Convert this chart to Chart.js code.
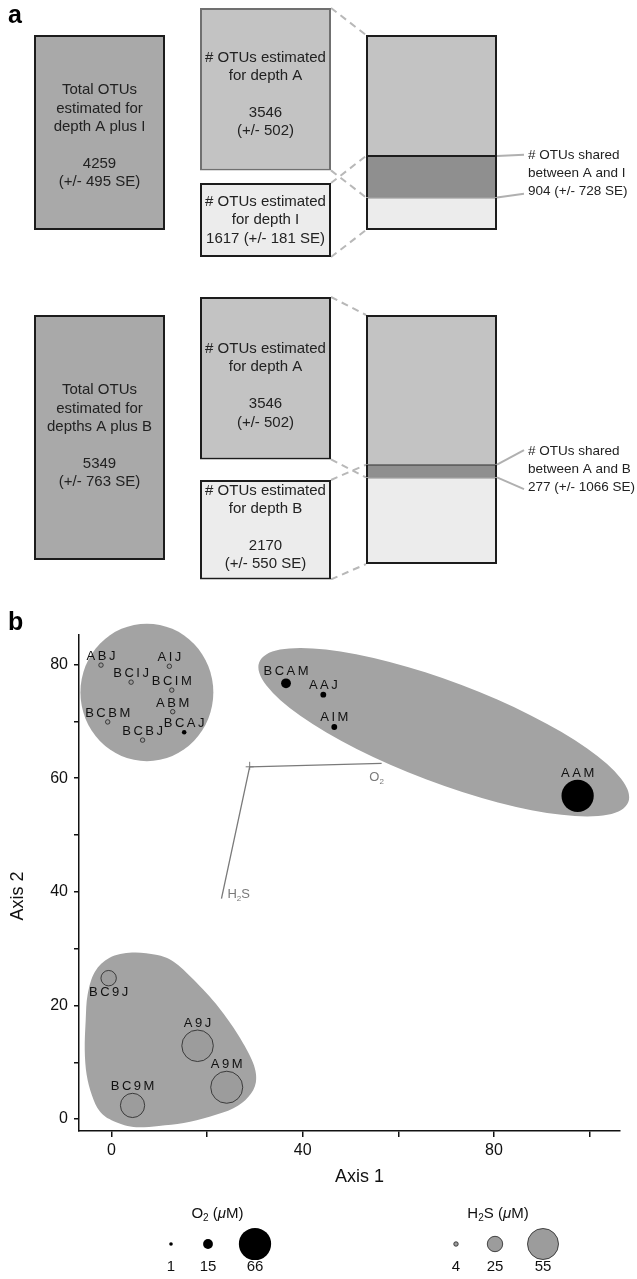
<!DOCTYPE html>
<html><head><meta charset="utf-8">
<script src="https://cdn.jsdelivr.net/npm/chart.js@4.4.1/dist/chart.umd.min.js"></script>
<style>
html,body{margin:0;padding:0;background:#fff;}
#wrap{position:relative;width:637px;height:1279px;overflow:hidden;}
canvas{position:absolute;left:0;}
#ca{top:0;} #cb{top:580px;}
</style></head><body>
<div id="wrap">
<canvas id="ca" width="637" height="580"></canvas>
<canvas id="cb" width="637" height="699"></canvas>
</div>
<script>
// ================= DATA: panel a (OTU estimates) =================
const otuA = 3546, otuA_se = 502;
const otuI = 1617, otuI_se = 181;
const otuB = 2170, otuB_se = 550;
const totalAI = 4259, totalAI_se = 495;
const totalAB = 5349, totalAB_se = 763;
const sharedAI = 904, sharedAI_se = 728;
const sharedAB = 277, sharedAB_se = 1066;

// ================= DATA: panel b (ordination) =================
const samples = ['ABJ','BCIJ','AIJ','BCIM','ABM','BCBM','BCBJ','BCAJ','BCAM','AAJ','AIM','AAM','BC9J','A9J','A9M','BC9M'];
const axis1   = [-2.2, 4.1, 12.1, 12.6, 12.8, -0.8, 6.5, 15.2, 36.5, 44.3, 46.6, 97.5, -0.6, 18.0, 24.1, 4.4];
const axis2   = [79.9, 76.9, 79.7, 75.5, 71.7, 69.9, 66.7, 68.1, 76.7, 74.7, 69.0, 56.9, 24.8, 12.9, 5.6, 2.4];
const o2uM    = [0, 0, 0, 0, 0, 0, 0, 3, 15, 6, 6, 66, 0, 0, 0, 0];
const h2suM   = [4, 4, 4, 4, 4, 4, 4, 0, 0, 0, 0, 0, 25, 56, 57, 42];
const xTickLabels = [0, 40, 80];
const yTickLabels = [0, 20, 40, 60, 80];
const o2Legend  = [1, 15, 66];
const h2sLegend = [4, 25, 55];
// environmental vectors (axis units)
const vecOrigin = [28.9, 62.0];
const vecO2  = [56.5, 62.6];
const vecH2S = [23.0, 38.8];
// group outlines (axis units)
const hullTopLeft  = {cx: 7.4, cy: 75.1, rx: 13.9, ry: 12.1};
const hullTopRight = {cx: 69.5, cy: 68.1, majorX: 108.1, majorY: 55.8, minorX: 65.8, minorY: 76.4};
const hullLowX = [4.3,9.3,13.0,17.2,22.4,26.5,29.6,30.2,28.6,25.5,20.5,15.1,9.9,4.6,0.0,-2.5,-4.1,-5.2,-5.6,-5.4,-5.0,-3.5,-0.4];
const hullLowY = [29.3,28.9,27.7,24.5,19.7,14.8,9.9,6.5,3.9,1.9,0.4,-0.7,-1.2,-1.4,-0.2,1.4,4.2,7.8,12.2,17.4,21.9,25.9,28.4];
const labelBelow = ['BC9J'];

// ================= STYLE / LAYOUT =================
const FONT = "'Liberation Sans', Arial, Helvetica, sans-serif";
const K = 0.0458;                 // px per OTU in panel a
const C = {total:'#a9a9a9', single:'#c3c3c3', other:'#ececec', shared:'#8f8f8f', dark:'#1c1c1c', dash:'#b8b8b8', hull:'#a3a3a3', vec:'#7a7a7a'};
const rO2  = v => 1.6 + 0.22 * v;     // bubble radius mapping
const rH2S = v => 1.2 + 0.26 * v;

const groupsA = [
  {totalTop:35, aTop:8, oTop:183, aBorder:'#707070', total:totalAI, totalSe:totalAI_se, plusName:'depth A plus I',
   other:otuI, otherSe:otuI_se, otherName:'I', otherCompact:true, shared:sharedAI, sharedSe:sharedAI_se, dy:[3.5,5,0], labelDy:-3},
  {totalTop:315, aTop:297, oTop:480, aBorder:C.dark, total:totalAB, totalSe:totalAB_se, plusName:'depths A plus B',
   other:otuB, otherSe:otuB_se, otherName:'B', otherCompact:false, shared:sharedAB, sharedSe:sharedAB_se, dy:[-1.5,7.5,-2.5], labelDy:-2}
];

// ---------------- panel a: floating bars ----------------
const catsA = ['total','single','combined'];
const boxes = [];
groupsA.forEach(g => {
  g.idx = {};
  const t = g.totalTop / K, a = g.aTop / K, o = g.oTop / K;
  g.idx.total = boxes.length;
  boxes.push({cat:0, range:[t, t + g.total], fill:C.total, stroke:C.dark, bw:2, dy:g.dy[0],
    lines:['Total OTUs','estimated for', g.plusName, '', String(g.total), '(+/- ' + g.totalSe + ' SE)']});
  g.idx.a = boxes.length;
  boxes.push({cat:1, range:[a, a + otuA], fill:C.single, stroke:g.aBorder, bw:2, dy:g.dy[1],
    lines:['# OTUs estimated','for depth A','', String(otuA), '(+/- ' + otuA_se + ')']});
  g.idx.o = boxes.length;
  boxes.push({cat:1, range:[o, o + g.other], fill:C.other, stroke:C.dark, bw:2, dy:g.dy[2],
    lines: g.otherCompact
      ? ['# OTUs estimated','for depth ' + g.otherName, g.other + ' (+/- ' + g.otherSe + ' SE)']
      : ['# OTUs estimated','for depth ' + g.otherName, '', String(g.other), '(+/- ' + g.otherSe + ' SE)']});
  const s1 = otuA - g.shared, s3 = g.other - g.shared;
  g.idx.s1 = boxes.length;
  boxes.push({cat:2, range:[t, t + s1], fill:C.single, stroke:C.dark, bw:{top:2,left:2,right:2,bottom:1}});
  g.idx.s2 = boxes.length;
  boxes.push({cat:2, range:[t + s1, t + s1 + g.shared], fill:C.shared, stroke:C.dark, bw:{top:1,left:2,right:2,bottom:1}});
  g.idx.s3 = boxes.length;
  boxes.push({cat:2, range:[t + s1 + g.shared, t + s1 + g.shared + s3], fill:C.other, stroke:C.dark, bw:{top:1,left:2,right:2,bottom:2}});
});

function geom(chart, di, cat) {
  const el = chart.getDatasetMeta(di).data[cat];
  const p = el.getProps(['x','y','base','width'], true);
  return {left:p.x - p.width/2, right:p.x + p.width/2, top:Math.min(p.y,p.base), bottom:Math.max(p.y,p.base), cx:p.x};
}

const pluginA = {
  id:'panelA',
  beforeDatasetsDraw(chart) {
    const ctx = chart.ctx;
    ctx.save();
    ctx.strokeStyle = C.dash; ctx.lineWidth = 2; ctx.setLineDash([7,5]);
    groupsA.forEach(g => {
      const A = geom(chart, g.idx.a, 1), O = geom(chart, g.idx.o, 1);
      const S1 = geom(chart, g.idx.s1, 2), S2 = geom(chart, g.idx.s2, 2), S3 = geom(chart, g.idx.s3, 2);
      [[A.right, A.top, S1.left, S1.top], [A.right, A.bottom, S2.left, S2.bottom],
       [O.right, O.top, S2.left, S2.top], [O.right, O.bottom, S3.left, S3.bottom]].forEach(l => {
        ctx.beginPath(); ctx.moveTo(l[0], l[1]); ctx.lineTo(l[2], l[3]); ctx.stroke();
      });
    });
    ctx.restore();
  },
  afterDatasetsDraw(chart) {
    const ctx = chart.ctx;
    ctx.save();
    ctx.fillStyle = '#222'; ctx.textAlign = 'center'; ctx.textBaseline = 'middle';
    ctx.font = '15px ' + FONT;
    const LH = 18.4;
    boxes.forEach((b, di) => {
      if (!b.lines) return;
      const G = geom(chart, di, b.cat);
      const cy = (G.top + G.bottom) / 2 + (b.dy || 0);
      const n = b.lines.length;
      b.lines.forEach((s, i) => { if (s) ctx.fillText(s, G.cx, cy + (i - (n - 1) / 2) * LH); });
    });
    // shared labels
    ctx.font = '13.5px ' + FONT; ctx.textAlign = 'left';
    groupsA.forEach(g => {
      const S2 = geom(chart, g.idx.s2, 2);
      const cy = (S2.top + S2.bottom) / 2 + g.labelDy;
      const lines = ['# OTUs shared', 'between A and ' + g.otherName, g.shared + ' (+/- ' + g.sharedSe + ' SE)'];
      const y0 = cy - 18, y2 = cy + 18;
      ctx.strokeStyle = '#b0b0b0'; ctx.lineWidth = 2;
      ctx.beginPath(); ctx.moveTo(S2.right, S2.top); ctx.lineTo(S2.right + 27, y0 - 1); ctx.stroke();
      ctx.beginPath(); ctx.moveTo(S2.right, S2.bottom); ctx.lineTo(S2.right + 27, y2 + 2); ctx.stroke();
      lines.forEach((s, i) => ctx.fillText(s, S2.right + 31, cy + (i - 1) * 18));
    });
    ctx.fillStyle = '#000'; ctx.font = 'bold 25px ' + FONT; ctx.textBaseline = 'alphabetic';
    ctx.fillText('a', 8, 23);
    ctx.restore();
  }
};

new Chart(document.getElementById('ca'), {
  type:'bar',
  data:{labels:catsA, datasets: boxes.map(b => ({
    data: catsA.map((c, i) => i === b.cat ? b.range : null),
    backgroundColor:b.fill, borderColor:b.stroke, borderWidth:b.bw, borderSkipped:false,
    grouped:false, barThickness:131, inflateAmount:0
  }))},
  options:{
    responsive:false, animation:false, events:[], devicePixelRatio:1,
    layout:{padding:{left:16.5, right:122.5, top:0, bottom:0}},
    plugins:{legend:{display:false}, tooltip:{enabled:false}},
    scales:{
      x:{type:'category', display:false, offset:true},
      y:{type:'linear', display:false, reverse:true, min:0, max:580 / K}
    }
  },
  plugins:[pluginA]
});

// ---------------- panel b: bubble ordination ----------------
const h2sPts = [], o2Pts = [];
samples.forEach((s, i) => {
  if (h2suM[i] > 0) h2sPts.push({x:axis1[i], y:axis2[i], r:rH2S(h2suM[i])});
  if (o2uM[i] > 0) o2Pts.push({x:axis1[i], y:axis2[i], r:rO2(o2uM[i])});
});

function smoothClosed(ctx, p) {
  const n = p.length;
  ctx.beginPath(); ctx.moveTo(p[0][0], p[0][1]);
  for (let i = 0; i < n; i++) {
    const p0 = p[(i - 1 + n) % n], p1 = p[i], p2 = p[(i + 1) % n], p3 = p[(i + 2) % n];
    ctx.bezierCurveTo(p1[0] + (p2[0] - p0[0]) / 6, p1[1] + (p2[1] - p0[1]) / 6,
                      p2[0] - (p3[0] - p1[0]) / 6, p2[1] - (p3[1] - p1[1]) / 6, p2[0], p2[1]);
  }
  ctx.closePath();
}

function subText(ctx, parts, cx, cy, align) {
  let w = 0;
  parts.forEach(p => { ctx.font = p[1]; w += ctx.measureText(p[0]).width; });
  let x = align === 'left' ? cx : cx - w / 2;
  ctx.textAlign = 'left';
  parts.forEach(p => { ctx.font = p[1]; ctx.fillText(p[0], x, cy + (p[2] || 0)); x += ctx.measureText(p[0]).width; });
}

const legendLayout = {titleY:634, symY:664, numY:687, o2X:[171,208,255], h2sX:[456,495,543], o2TitleX:217.5, h2sTitleX:498};

const pluginB = {
  id:'panelB',
  beforeDatasetsDraw(chart) {
    const {ctx, scales:{x, y}} = chart;
    const P = (vx, vy) => [x.getPixelForValue(vx), y.getPixelForValue(vy)];
    ctx.save();
    ctx.fillStyle = C.hull;
    const h = hullTopLeft;
    ctx.beginPath();
    ctx.ellipse(x.getPixelForValue(h.cx), y.getPixelForValue(h.cy),
      Math.abs(x.getPixelForValue(h.cx + h.rx) - x.getPixelForValue(h.cx)),
      Math.abs(y.getPixelForValue(h.cy + h.ry) - y.getPixelForValue(h.cy)), 0, 0, Math.PI * 2);
    ctx.fill();
    const e = hullTopRight;
    const c = P(e.cx, e.cy), ma = P(e.majorX, e.majorY), mi = P(e.minorX, e.minorY);
    ctx.beginPath();
    ctx.ellipse(c[0], c[1], Math.hypot(ma[0] - c[0], ma[1] - c[1]), Math.hypot(mi[0] - c[0], mi[1] - c[1]),
      Math.atan2(ma[1] - c[1], ma[0] - c[0]), 0, Math.PI * 2);
    ctx.fill();
    smoothClosed(ctx, hullLowX.map((v, i) => P(v, hullLowY[i]))); ctx.fill();
    // vectors
    const [ox, oy] = P(vecOrigin[0], vecOrigin[1]);
    const [ax, ay] = P(vecO2[0], vecO2[1]);
    const [bx, by] = P(vecH2S[0], vecH2S[1]);
    ctx.strokeStyle = C.vec; ctx.lineWidth = 1.3;
    ctx.beginPath(); ctx.moveTo(ox, oy); ctx.lineTo(ax, ay); ctx.moveTo(ox, oy); ctx.lineTo(bx, by); ctx.stroke();
    ctx.lineWidth = 1;
    ctx.beginPath(); ctx.moveTo(ox - 4, oy); ctx.lineTo(ox + 4, oy); ctx.moveTo(ox, oy - 5); ctx.lineTo(ox, oy + 3); ctx.stroke();
    ctx.fillStyle = C.vec; ctx.textBaseline = 'middle';
    subText(ctx, [['O', '13px ' + FONT], ['2', '8px ' + FONT, 4]], ax - 5, ay + 14, 'center');
    subText(ctx, [['H', '13px ' + FONT], ['2', '8px ' + FONT, 4], ['S', '13px ' + FONT]], bx + 6, by - 4, 'left');
    ctx.restore();
  },
  afterDatasetsDraw(chart) {
    const {ctx, scales:{x, y}} = chart;
    ctx.save();
    ctx.fillStyle = '#111'; ctx.font = '13px ' + FONT; ctx.textBaseline = 'middle'; ctx.textAlign = 'left';
    const sp = 2.5;
    ctx.letterSpacing = sp + 'px';
    samples.forEach((s, i) => {
      const px = x.getPixelForValue(axis1[i]), py = y.getPixelForValue(axis2[i]);
      const r = Math.max(o2uM[i] > 0 ? rO2(o2uM[i]) : 0, h2suM[i] > 0 ? rH2S(h2suM[i]) : 0);
      const ly = labelBelow.includes(s) ? py + r + 7 : py - r - 6.5;
      const w = ctx.measureText(s).width - sp;
      ctx.fillText(s, px - w / 2, ly);
    });
    ctx.restore();
  },
  afterDraw(chart) {
    const {ctx, chartArea:ca} = chart;
    ctx.save();
    ctx.fillStyle = '#111'; ctx.textAlign = 'center'; ctx.textBaseline = 'middle';
    ctx.font = '18px ' + FONT;
    ctx.fillText('Axis 1', (ca.left + ca.right) / 2 + 10, 597);
    ctx.save(); ctx.translate(18.5, (ca.top + ca.bottom) / 2 + 13); ctx.rotate(-Math.PI / 2);
    ctx.fillText('Axis 2', 0, 0); ctx.restore();
    // legend
    const L = legendLayout;
    subText(ctx, [['O', '15px ' + FONT], ['2', '10px ' + FONT, 4], [' (', '15px ' + FONT], ['\u03BC', 'italic 15px ' + FONT], ['M)', '15px ' + FONT]], L.o2TitleX, L.titleY, 'center');
    subText(ctx, [['H', '15px ' + FONT], ['2', '10px ' + FONT, 4], ['S (', '15px ' + FONT], ['\u03BC', 'italic 15px ' + FONT], ['M)', '15px ' + FONT]], L.h2sTitleX, L.titleY, 'center');
    ctx.font = '15px ' + FONT; ctx.textAlign = 'center';
    o2Legend.forEach((v, i) => {
      ctx.fillStyle = '#000'; ctx.beginPath(); ctx.arc(L.o2X[i], L.symY, rO2(v), 0, Math.PI * 2); ctx.fill();
      ctx.fillStyle = '#111'; ctx.fillText(String(v), L.o2X[i], L.numY);
    });
    h2sLegend.forEach((v, i) => {
      ctx.fillStyle = '#9c9c9c'; ctx.strokeStyle = '#222'; ctx.lineWidth = 0.8;
      ctx.beginPath(); ctx.arc(L.h2sX[i], L.symY, rH2S(v), 0, Math.PI * 2); ctx.fill(); ctx.stroke();
      ctx.fillStyle = '#111'; ctx.fillText(String(v), L.h2sX[i], L.numY);
    });
    ctx.fillStyle = '#000'; ctx.font = 'bold 25px ' + FONT; ctx.textAlign = 'left'; ctx.textBaseline = 'alphabetic';
    ctx.fillText('b', 8, 50);
    ctx.restore();
  }
};

const axisCommon = {
  grid:{drawOnChartArea:false, drawTicks:true, color:'#111', lineWidth:1.5},
  border:{display:true, color:'#111', width:1.5}
};

new Chart(document.getElementById('cb'), {
  type:'bubble',
  data:{datasets:[
    {label:'H2S', data:h2sPts, backgroundColor:'#9c9c9c', borderColor:'#222', borderWidth:0.8, clip:false},
    {label:'O2', data:o2Pts, backgroundColor:'#000', borderColor:'#000', borderWidth:0, clip:false}
  ]},
  options:{
    responsive:false, animation:false, events:[], devicePixelRatio:1,
    layout:{padding:{left:0, right:11, top:55, bottom:0}},
    plugins:{legend:{display:false}, tooltip:{enabled:false}},
    scales:{
      x:{type:'linear', position:'bottom', min:-6.8, max:106.4,
        afterFit(s){ s.height = 148; },
        ticks:{stepSize:20, includeBounds:false, autoSkip:false, maxRotation:0, padding:4, color:'#111',
          font:{size:16, family:FONT}, callback:v => xTickLabels.includes(v) ? String(v) : ''},
        grid:Object.assign({}, axisCommon.grid, {tickLength:6}), border:axisCommon.border},
      y:{type:'linear', position:'left', min:-2.1, max:85.2,
        afterFit(s){ s.width = 79; },
        ticks:{stepSize:10, includeBounds:false, autoSkip:false, padding:6, color:'#111',
          font:{size:16, family:FONT}, callback:v => yTickLabels.includes(v) ? String(v) : ''},
        grid:Object.assign({}, axisCommon.grid, {tickLength:5}), border:axisCommon.border}
    }
  },
  plugins:[pluginB]
});
</script>
</body></html>
